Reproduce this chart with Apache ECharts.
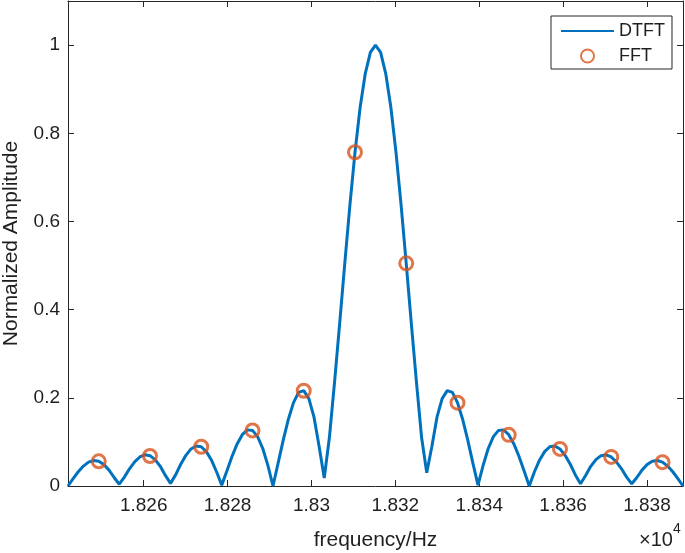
<!DOCTYPE html>
<html>
<head>
<meta charset="utf-8">
<script src="https://cdn.jsdelivr.net/npm/echarts@6/dist/echarts.min.js"></script>
<style>
html,body{margin:0;padding:0;background:#fff;}
#main{width:685px;height:553px;}
</style>
</head>
<body>
<div id="main"></div>
<script>
// DTFT curve: frequency (Hz) and normalized amplitude
var freqDTFT = [
18241.95,18243.17,18244.39,18245.62,18246.84,18248.06,18249.28,18250.50,18251.73,18252.95,
18254.17,18255.39,18256.61,18257.84,18259.06,18260.28,18261.50,18262.72,18263.95,18265.17,
18266.39,18267.61,18268.83,18270.06,18271.28,18272.50,18273.72,18274.94,18276.17,18277.39,
18278.61,18279.83,18281.05,18282.28,18283.50,18284.72,18285.94,18287.16,18288.39,18289.61,
18290.83,18292.05,18293.27,18294.50,18295.72,18296.94,18298.16,18299.38,18300.61,18301.83,
18303.05,18304.27,18305.49,18306.72,18307.94,18309.16,18310.38,18311.60,18312.83,18314.05,
18315.27,
18316.49,18317.71,18318.94,18320.16,18321.38,18322.60,18323.82,18325.05,18326.27,18327.49,
18328.71,18329.93,18331.16,18332.38,18333.60,18334.82,18336.04,18337.27,18338.49,18339.71,
18340.93,18342.15,18343.38,18344.60,18345.82,18347.04,18348.26,18349.49,18350.71,18351.93,
18353.15,18354.37,18355.60,18356.82,18358.04,18359.26,18360.48,18361.71,18362.93,18364.15,
18365.37,18366.59,18367.82,18369.04,18370.26,18371.48,18372.70,18373.93,18375.15,18376.37,
18377.59,18378.81,18380.04,18381.26,18382.48,18383.70,18384.92,18386.15,18387.37,18388.59
];
var ampDTFT = [
0,0.0167,0.0323,0.0452,0.0541,0.0579,0.0561,0.0486,0.0360,0.0193,
0.004,0.0201,0.0390,0.0548,0.0658,0.0707,0.0688,0.0599,0.0446,0.0240,
0.006,0.0252,0.0493,0.0696,0.0841,0.0909,0.0890,0.0780,0.0585,0.0317,
0.002,0.0339,0.0668,0.0954,0.1164,0.1273,0.1261,0.1120,0.0851,0.0468,
0,0.0518,0.1040,0.1515,0.1892,0.2122,0.2162,0.1981,0.1560,0.0894,
0.018,0.1093,0.2339,0.3679,0.5045,0.6366,0.7568,0.8584,0.9355,0.9836,
1,
0.9836,0.9355,0.8584,0.7568,0.6366,0.5045,0.3679,0.2339,0.1093,0.030,
0.0894,0.1560,0.1981,0.2162,0.2122,0.1892,0.1515,0.1040,0.0518,0.002,
0.0468,0.0851,0.1120,0.1261,0.1273,0.1164,0.0954,0.0668,0.0339,0,
0.0317,0.0585,0.0780,0.0890,0.0909,0.0841,0.0696,0.0493,0.0252,0.005,
0.0240,0.0446,0.0599,0.0688,0.0707,0.0658,0.0548,0.0390,0.0201,0.005,
0.0193,0.0360,0.0486,0.0561,0.0579,0.0541,0.0452,0.0323,0.0167,0
];
// FFT bins
var freqFFT = [18249.28,18261.50,18273.72,18285.94,18298.16,18310.38,18322.60,18334.82,18347.04,18359.26,18371.48,18383.70];
var ampFFT  = [0.056,0.068,0.089,0.126,0.216,0.757,0.505,0.189,0.116,0.084,0.066,0.054];
// ticks
var xTicks = [18260,18280,18300,18320,18340,18360,18380];
var yTicks = [0,0.2,0.4,0.6,0.8,1];
var yMax = 1.1;

var dtftData = freqDTFT.map(function(f,i){return [f, ampDTFT[i]];});
var fftData = freqFFT.map(function(f,i){return [f, ampFFT[i]];});
var xMin = freqDTFT[0], xMax = freqDTFT[freqDTFT.length-1];

var TXT = '#1f1f1f';
var FONT = 'Liberation Sans, Arial, Helvetica, sans-serif';
var axisLine = {show:true, onZero:false, lineStyle:{color:'#262626', width:1}};

var chart = echarts.init(document.getElementById('main'), null, {renderer:'canvas'});
chart.setOption({
  animation:false,
  backgroundColor:'#fff',
  textStyle:{fontFamily:FONT, color:TXT},
  grid:{left:68, right:2, top:1, bottom:67, containLabel:false, outerBoundsMode:'none'},
  xAxis:[{
    type:'value', min:xMin, max:xMax, position:'bottom',
    axisLine:axisLine,
    axisTick:{show:true, inside:true, length:6, customValues:xTicks, lineStyle:{color:'#262626'}},
    axisLabel:{show:true, customValues:xTicks, fontSize:19, color:TXT, fontFamily:FONT, margin:10,
      formatter:function(v){return String(parseFloat((v/10000).toFixed(4)));}},
    splitLine:{show:false},
    name:'frequency/Hz', nameLocation:'middle', nameGap:44,
    nameTextStyle:{fontSize:21, color:TXT, fontFamily:FONT}
  },{
    type:'value', min:xMin, max:xMax, position:'top',
    axisLine:axisLine,
    axisTick:{show:true, inside:true, length:6, customValues:xTicks, lineStyle:{color:'#262626'}},
    axisLabel:{show:false},
    splitLine:{show:false}
  }],
  yAxis:[{
    type:'value', min:0, max:yMax, position:'left',
    axisLine:axisLine,
    axisTick:{show:true, inside:true, length:6, customValues:yTicks, lineStyle:{color:'#262626'}},
    axisLabel:{show:true, customValues:yTicks, fontSize:19, color:TXT, fontFamily:FONT, margin:8,
      formatter:function(v){return String(parseFloat(v.toFixed(2)));}},
    splitLine:{show:false},
    name:'Normalized Amplitude', nameLocation:'middle', nameGap:46,
    nameTextStyle:{fontSize:21, color:TXT, fontFamily:FONT}
  },{
    type:'value', min:0, max:yMax, position:'right',
    axisLine:axisLine,
    axisTick:{show:true, inside:true, length:6, customValues:yTicks, lineStyle:{color:'#262626'}},
    axisLabel:{show:false},
    splitLine:{show:false}
  }],
  legend:{
    orient:'vertical', left:551, top:16,
    padding:[6,7,4,9], itemGap:7, itemWidth:53, itemHeight:13,
    borderColor:'#262626', borderWidth:1, backgroundColor:'#fff',
    textStyle:{fontSize:18, color:TXT, fontFamily:FONT},
    data:[{name:'DTFT', itemStyle:{opacity:0}},{name:'FFT'}]
  },
  graphic:[
    {type:'text', left:639, top:530, style:{text:'\u00d710', font:'20px '+FONT, fill:TXT}},
    {type:'text', left:673, top:522, style:{text:'4', font:'14px '+FONT, fill:TXT}}
  ],
  series:[{
    name:'DTFT', type:'line', data:dtftData, showSymbol:false, symbol:'none',
    lineStyle:{color:'#0072BD', width:3}, itemStyle:{color:'#0072BD'}, z:2
  },{
    name:'FFT', type:'scatter', data:fftData, symbol:'circle', symbolSize:13,
    itemStyle:{color:'rgba(255,255,255,0)', borderColor:'#D95319', borderWidth:3}, z:3
  }]
});
</script>
</body>
</html>
